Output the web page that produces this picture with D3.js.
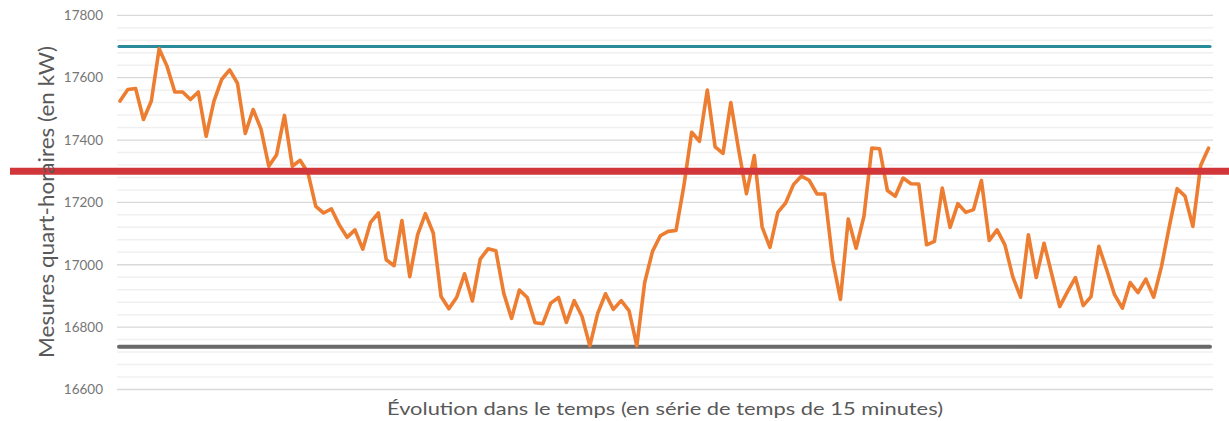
<!DOCTYPE html>
<html><head><meta charset="utf-8">
<script src="https://cdn.jsdelivr.net/npm/d3@7"></script>
<style>body{margin:0;background:#fff} svg{display:block}</style>
</head><body><svg id="c" width="1229" height="421"></svg>
<script>
// Quarter-hourly measures (kW)
const values = [
  17525,17562,17565,17466,17525,17693,17637,17554,17554,17530,
  17554,17412,17525,17595,17625,17582,17421,17498,17436,17316,
  17353,17479,17316,17335,17295,17187,17166,17179,17128,17088,
  17112,17050,17136,17166,17016,16997,17142,16962,17096,17164,
  17102,16898,16859,16896,16971,16884,17018,17051,17045,16909,
  16828,16919,16895,16814,16811,16877,16895,16815,16885,16834,
  16740,16844,16907,16857,16885,16853,16740,16943,17043,17093,
  17107,17110,17252,17425,17396,17560,17378,17357,17520,17369,
  17228,17350,17121,17056,17168,17198,17257,17284,17271,17227,
  17227,17016,16889,17147,17053,17155,17374,17372,17238,17220,
  17278,17260,17259,17064,17075,17246,17120,17196,17168,17177,
  17270,17078,17112,17064,16962,16896,17096,16959,17069,16968,
  16866,16914,16959,16869,16898,17059,16984,16904,16861,16943,
  16911,16954,16896,16995,17123,17244,17220,17123,17318,17374
];
const yTicks = [16600,16800,17000,17200,17400,17600,17800];
const minorStep = 40;
const refMax = 17700;
const refMean = 17300;
const refMin = 16737;
const xTitle = "Évolution dans le temps (en série de temps de 15 minutes)";
const yTitle = "Mesures quart-horaires  (en kW)";

const svg = d3.select("#c");
const font = "Lato, 'Open Sans', sans-serif";
const y = d3.scaleLinear().domain([16600, 17800]).range([389.5, 15.3]);
const x = d3.scalePoint().domain(d3.range(values.length)).range([120, 1208.5]);

const gridX0 = 117, gridX1 = 1213;
// minor gridlines
const minor = d3.range(16600, 17800 + 1, minorStep).filter(v => !yTicks.includes(v));
svg.append("g").selectAll("line").data(minor).join("line")
  .attr("x1", gridX0).attr("x2", gridX1)
  .attr("y1", d => y(d)).attr("y2", d => y(d))
  .attr("stroke", "#f0f0f0").attr("stroke-width", 1.5);
// major gridlines
svg.append("g").selectAll("line").data(yTicks).join("line")
  .attr("x1", gridX0).attr("x2", gridX1)
  .attr("y1", d => y(d)).attr("y2", d => y(d))
  .attr("stroke", "#d9d9d9").attr("stroke-width", 1.3);

// y axis labels
const ax = svg.append("g").attr("transform", "translate(117,0)")
  .call(d3.axisLeft(y).tickValues(yTicks).tickSize(0).tickPadding(14).tickFormat(d3.format("d")));
ax.select(".domain").remove();
ax.selectAll("text").attr("font-family", font).attr("font-size", 13.5).attr("fill", "#767676");

// reference lines
svg.append("line").attr("x1", 119).attr("x2", 1210)
  .attr("y1", y(refMax)).attr("y2", y(refMax))
  .attr("stroke", "#2a8b9b").attr("stroke-width", 3.2).attr("stroke-linecap", "round");
svg.append("line").attr("x1", 119).attr("x2", 1210)
  .attr("y1", y(refMin)).attr("y2", y(refMin))
  .attr("stroke", "#6a6a6a").attr("stroke-width", 4).attr("stroke-linecap", "round");

// main series
svg.append("path").datum(values)
  .attr("d", d3.line().x((d, i) => x(i)).y(d => y(d)))
  .attr("fill", "none").attr("stroke", "#ed7d31").attr("stroke-width", 3.6)
  .attr("stroke-linejoin", "round").attr("stroke-linecap", "round");

svg.append("line").attr("x1", 10).attr("x2", 1229)
  .attr("y1", y(refMean)).attr("y2", y(refMean))
  .attr("stroke", "#d1363b").attr("stroke-width", 7);

// titles
svg.append("text").attr("x", 665).attr("y", 415)
  .attr("text-anchor", "middle").attr("font-family", font).attr("font-size", 18)
  .attr("fill", "#595959").attr("textLength", 556).attr("lengthAdjust", "spacingAndGlyphs")
  .text(xTitle);
svg.append("text").attr("transform", "translate(54,202) rotate(-90)")
  .attr("text-anchor", "middle").attr("font-family", font).attr("font-size", 20.5)
  .attr("fill", "#595959").attr("textLength", 312).attr("lengthAdjust", "spacingAndGlyphs")
  .text(yTitle);
</script></body></html>
